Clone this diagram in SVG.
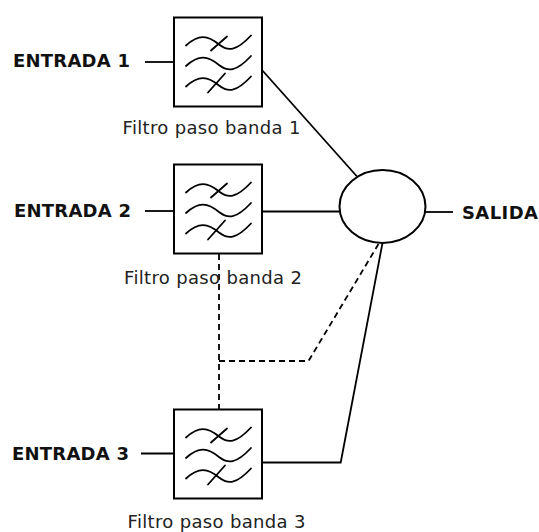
<svg xmlns="http://www.w3.org/2000/svg" width="539" height="532" viewBox="0 0 539 532">
<defs>
<style>
.box{fill:#fff;stroke:#000;stroke-width:2}
.sym{fill:none;stroke:#000;stroke-width:1.8;stroke-linecap:round}
.ln{fill:none;stroke:#000;stroke-width:1.8}
.dash{fill:none;stroke:#000;stroke-width:1.8;stroke-dasharray:6,4}
.in{font-family:"DejaVu Sans","Liberation Sans",sans-serif;font-weight:bold;font-size:18px;fill:#111}
.lbl{font-family:"DejaVu Sans","Liberation Sans",sans-serif;font-size:18px;fill:#222}
</style>
<g id="filt">
<rect class="box" x="0" y="0" width="88" height="89"/>
<path class="sym" d="M12,28 C25,16 34,18 45,27 C54,34 62,34 77,18"/>
<path class="sym" d="M37,33 L53,19"/>
<path class="sym" d="M12,48.5 C25,36.5 34,38.5 45,47.5 C54,54.5 62,54.5 77,38.5"/>
<path class="sym" d="M12,69 C25,57 34,59 45,68 C54,75 62,75 77,59"/>
<path class="sym" d="M34,75 L51,56"/>
</g>
</defs>
<g id="connectors">
<line class="ln" x1="145" y1="62" x2="174" y2="62"/>
<line class="ln" x1="145" y1="211" x2="174" y2="211"/>
<line class="ln" x1="141" y1="453.5" x2="174" y2="453.5"/>
<line class="ln" x1="262" y1="70" x2="357" y2="176.5"/>
<line class="ln" x1="262" y1="211.5" x2="339.5" y2="211.5"/>
<line class="ln" x1="425.5" y1="212" x2="453" y2="212"/>
<polyline class="ln" points="262,462.5 340.7,462.5 382.5,243"/>
<line class="dash" x1="219" y1="254" x2="219" y2="409"/>
<polyline class="dash" points="219,361 308.5,361 378.5,244"/>
</g>
<g id="filtro1"><use href="#filt" x="174" y="17.5"/><text class="lbl" x="122.5" y="134" textLength="178" lengthAdjust="spacing">Filtro paso banda 1</text></g>
<g id="filtro2"><use href="#filt" x="174" y="164.5"/><text class="lbl" x="124" y="284" textLength="178" lengthAdjust="spacing">Filtro paso banda 2</text></g>
<g id="filtro3"><use href="#filt" x="174" y="409.5"/><text class="lbl" x="127.5" y="527.5" textLength="178" lengthAdjust="spacing">Filtro paso banda 3</text></g>
<g id="sumador"><ellipse class="box" cx="382.5" cy="206.5" rx="43" ry="36.5"/></g>
<g id="entrada1"><text class="in" x="13" y="66.5" textLength="117" lengthAdjust="spacing">ENTRADA 1</text></g>
<g id="entrada2"><text class="in" x="14" y="217" textLength="117" lengthAdjust="spacing">ENTRADA 2</text></g>
<g id="entrada3"><text class="in" x="12" y="459.5" textLength="117" lengthAdjust="spacing">ENTRADA 3</text></g>
<g id="salida"><text class="in" x="462" y="219" textLength="76" lengthAdjust="spacing">SALIDA</text></g>
</svg>
